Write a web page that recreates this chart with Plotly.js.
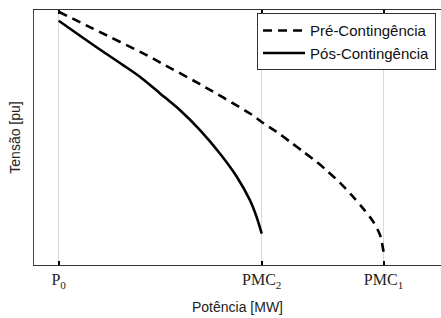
<!DOCTYPE html>
<html>
<head>
<meta charset="utf-8">
<script src="https://cdn.plot.ly/plotly-3.0.1.min.js"></script>
<style>html,body{margin:0;padding:0;background:#fff;}#chart{width:441px;height:318px;}</style>
</head>
<body>
<div id="chart"></div>
<script>
// Pré-Contingência curve (power, voltage normalized)
const preP = [0, 16.9, 43.3, 50.7, 69.6, 94.2, 100, 107.4, 114.0, 120.5, 127.1, 132.8, 138.6, 144.3, 150.0, 155.0, 158.3, 160];
const preV = [0.993, 0.927, 0.823, 0.791, 0.709, 0.594, 0.561, 0.522, 0.483, 0.444, 0.404, 0.365, 0.322, 0.274, 0.221, 0.169, 0.117, 0.052];
// Pós-Contingência curve
const posP = [0, 20.3, 31.7, 40.0, 49.9, 59.8, 69.6, 79.4, 87.7, 94.2, 97.5, 100];
const posV = [0.958, 0.845, 0.784, 0.738, 0.673, 0.607, 0.529, 0.437, 0.346, 0.254, 0.188, 0.123];
// tick positions and labels
const tickVals = [0, 100, 160];
const tickText = ['P<sub>0</sub>', 'PMC<sub>2</sub>', 'PMC<sub>1</sub>'];
const seriesNames = ['Pré-Contingência', 'Pós-Contingência'];

const traces = [
  {x: preP, y: preV, mode: 'lines', name: seriesNames[0],
   line: {color: '#000', width: 2.6, dash: '9px,6px', shape: 'spline', smoothing: 0.8}},
  {x: posP, y: posV, mode: 'lines', name: seriesNames[1],
   line: {color: '#000', width: 2.6, shape: 'spline', smoothing: 0.8}}
];

const layout = {
  width: 441, height: 318,
  margin: {l: 34, r: 0, t: 10, b: 53},
  paper_bgcolor: '#fff', plot_bgcolor: '#fff',
  font: {family: 'Liberation Sans, Arial, sans-serif', color: '#222'},
  showlegend: true,
  legend: {
    x: 0.548, y: 0.987, xanchor: 'left', yanchor: 'top',
    itemwidth: 42,
    bgcolor: '#fff', bordercolor: '#333', borderwidth: 1,
    font: {family: 'Liberation Sans, Arial, sans-serif', size: 15, color: '#111'}
  },
  xaxis: {
    range: [-12.17, 188.3],
    tickmode: 'array', tickvals: tickVals, ticktext: tickText,
    ticks: 'inside', ticklen: 4, tickwidth: 2, tickcolor: '#000',
    showgrid: true, gridcolor: '#d9d9d9', gridwidth: 1,
    zeroline: false,
    showline: true, linecolor: '#333', linewidth: 1, mirror: 'ticks',
    tickfont: {family: 'Liberation Serif, Times New Roman, serif', size: 16, color: '#222'},
    title: {text: 'Potência [MW]', font: {size: 14, color: '#222'}, standoff: 12}
  },
  yaxis: {
    range: [0, 1],
    showticklabels: false, ticks: '', showgrid: false, zeroline: false,
    showline: true, linecolor: '#444', linewidth: 1, mirror: false,
    title: {text: 'Tensão [pu]', font: {size: 14, color: '#222'}, standoff: 9}
  }
};

Plotly.newPlot('chart', traces, layout, {staticPlot: true, displayModeBar: false});
</script>
</body>
</html>
